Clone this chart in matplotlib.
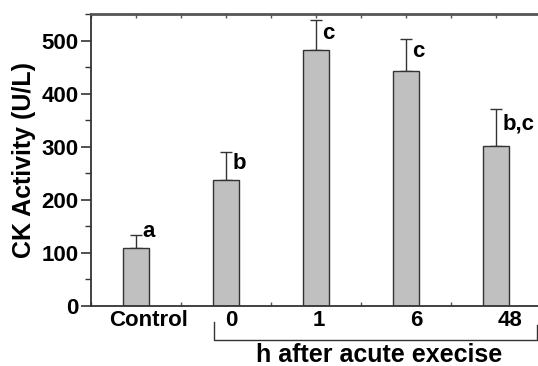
import numpy as np
import matplotlib
matplotlib.use("Agg")
import matplotlib.pyplot as plt
from matplotlib.ticker import MultipleLocator
import matplotlib.transforms as mtransforms

plt.rcParams['font.family'] = ['Liberation Sans', 'DejaVu Sans']
plt.rcParams['font.weight'] = 'bold'

groups = ["Control", "0", "1", "6", "48"]
means = [110, 237, 483, 443, 302]
errors = [24, 53, 56, 60, 70]
letters = ["a", "b", "c", "c", "b,c"]
# where the group labels and significance letters sit (data units)
label_x = [1.14, 2.06, 3.03, 4.11, 5.16]
letter_y = [141, 269, 513, 480, 343]

x = np.arange(1, len(groups) + 1)

fig = plt.figure(figsize=(5.38, 3.66), dpi=100)
ax = fig.add_axes([91 / 538, 1 - 306 / 366, 450 / 538, 292 / 366])

ax.bar(x, means, width=0.29, color="#c0c0c0", edgecolor="#333333", linewidth=1.0, zorder=2)
ax.errorbar(x, means, yerr=[np.zeros(len(x)), errors], fmt="none", ecolor="#333333",
            elinewidth=1.0, capsize=4.5, capthick=1.0, zorder=1)

for xi, yi, t in zip(x, letter_y, letters):
    ax.text(xi + 0.07, yi, t, fontsize=16, fontweight="bold", va="center", ha="left")

ax.set_xlim(0.5, 5.5)
ax.set_ylim(0, 550)

ax.yaxis.set_major_locator(MultipleLocator(100))
ax.yaxis.set_minor_locator(MultipleLocator(50))
ax.tick_params(axis="y", which="major", direction="out", length=7, width=1.2,
               color="#333333", labelsize=16, pad=2)
ax.tick_params(axis="y", which="minor", direction="out", length=4, width=1.0, color="#333333")
for lab in ax.get_yticklabels():
    lab.set_fontweight("bold")
ax.set_yticks([0, 100, 200, 300, 400, 500])
ax.set_yticklabels(["0", "100", "200", "300", "400", "500"], fontweight="bold")

ax.set_xticks(label_x)
ax.set_xticklabels(groups, fontsize=16, fontweight="bold")
ax.xaxis.set_minor_locator(MultipleLocator(0.5))
ax.tick_params(axis="x", which="major", length=0, pad=3)
ax.tick_params(axis="x", which="minor", direction="in", length=3, width=1.0, color="#555555",
               top=True, bottom=True)

ax.set_ylabel("CK Activity (U/L)", fontsize=18, fontweight="bold", labelpad=4)

for side in ["left", "bottom"]:
    ax.spines[side].set_linewidth(1.3)
    ax.spines[side].set_color("#333333")
ax.spines["top"].set_linewidth(2.0)
ax.spines["top"].set_color("#555555")
ax.spines["right"].set_visible(False)

# bracket under the post-exercise groups
trans = mtransforms.blended_transform_factory(ax.transData, ax.transAxes)
ax.plot([1.87, 1.87, 5.46, 5.46], [-0.055, -0.116, -0.116, -0.065], color="#333333",
        linewidth=1.0, transform=trans, clip_on=False)
ax.text(3.7, -0.168, "h after acute execise", fontsize=18, fontweight="bold",
        ha="center", va="center", transform=trans)

fig.savefig("out.png", dpi=100)
